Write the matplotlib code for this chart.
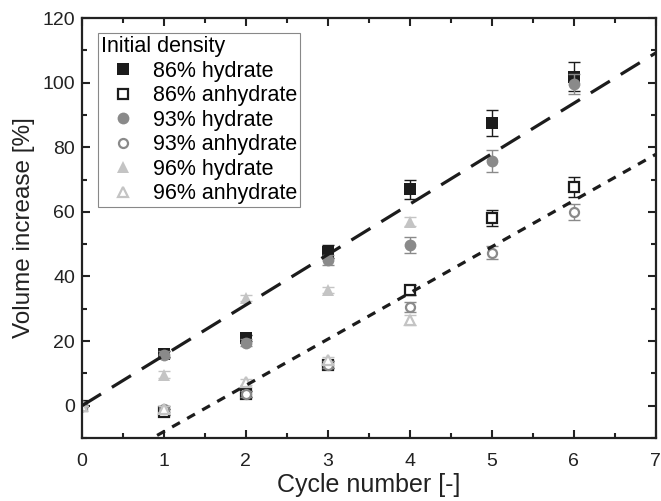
import numpy as np
import matplotlib
matplotlib.use("Agg")
import matplotlib.pyplot as plt

plt.rcParams['font.family'] = ['Liberation Sans', 'DejaVu Sans']

cycles = [0, 1, 2, 3, 4, 5, 6]
cycles_96 = [0, 1, 2, 3, 4]

h86 = [0, 16, 21, 47.6, 67, 87.5, 101.8]
h86_err = [0, 1, 1, 2, 3, 4, 4.5]
a86 = [0, -2, 3.7, 12.7, 35.9, 58.1, 67.7]
a86_err = [0, 1, 1, 1, 1.5, 2.5, 3]
h93 = [0, 15.8, 19.5, 45.2, 49.8, 75.8, 99.6]
h93_err = [0, 1, 1, 1.5, 2.5, 3.5, 3]
a93 = [0, -1, 3.7, 12.7, 30.6, 47.3, 60]
a93_err = [0, 1, 1, 1, 1.5, 2, 2.5]
h96 = [0, 9.6, 33.4, 35.9, 57]
h96_err = [0, 1, 1, 1, 1.5]
a96 = [0, -1, 7.4, 14.2, 26.6]
a96_err = [0, 1, 1, 1, 1.5]

# fit lines (slope, intercept)
fit_hydrate = (15.6, 0.0)
fit_anhydrate = (14.3, -22.3)

fig = plt.figure(figsize=(6.61, 5.01), dpi=100)
ax = fig.add_axes([0.124, 0.1257, 0.868, 0.8383])

black = '#1c1c1c'
gray = '#8a8a8a'
light = '#c4c4c4'

series = [
    (cycles, h86, h86_err, 's', black, True, '86% hydrate'),
    (cycles, a86, a86_err, 's', black, False, '86% anhydrate'),
    (cycles, h93, h93_err, 'o', gray, True, '93% hydrate'),
    (cycles, a93, a93_err, 'o', gray, False, '93% anhydrate'),
    (cycles_96, h96, h96_err, '^', light, True, '96% hydrate'),
    (cycles_96, a96, a96_err, '^', light, False, '96% anhydrate'),
]

for x, y, e, m, c, filled, lab in series:
    ax.errorbar(x, y, yerr=e, fmt='none', ecolor=c, elinewidth=1, capsize=4, capthick=1)
    ax.plot(x, y, ls='none', marker=m, markersize=8.5 if filled else 6.5,
            markerfacecolor=c if filled else 'white', markeredgecolor=c,
            markeredgewidth=0 if filled else 1.6, label=lab)

xx = np.array([0, 7])
ax.plot(xx, fit_hydrate[0] * xx + fit_hydrate[1], color=black, lw=2.3, dashes=(7, 4), zorder=5)
ax.plot(xx, fit_anhydrate[0] * xx + fit_anhydrate[1], color=black, lw=2.3, dashes=(2.8, 2.6), zorder=5)

ax.set_xlim(0, 7)
ax.set_ylim(-10, 120)
ax.set_xticks(range(0, 8))
ax.set_yticks(range(0, 121, 20))
ax.set_xticks(np.arange(0.5, 7, 1), minor=True)
ax.set_yticks(range(-10, 121, 20), minor=True)
ax.tick_params(which='both', direction='in', top=True, right=True, width=1.5, labelsize=14, colors='#222222')
ax.tick_params(which='major', length=6)
ax.tick_params(which='minor', length=3.5)
ax.tick_params(axis='x', pad=11)
ax.tick_params(axis='y', pad=5)
for s in ax.spines.values():
    s.set_linewidth(1.6)
    s.set_color('#222222')

ax.set_xlabel('Cycle number [-]', fontsize=18, color='#222222', labelpad=2)
ax.set_ylabel('Volume increase [%]', fontsize=17.5, color='#222222', labelpad=5)

leg = ax.legend(title='Initial density', loc='upper left', bbox_to_anchor=(0.028, 0.964),
                fontsize=15.5, title_fontsize=15.5, alignment='left', fancybox=False,
                edgecolor='#888888', framealpha=1, handlelength=2.0, handletextpad=0.4,
                labelspacing=0.16, borderpad=0.15, borderaxespad=0)
leg.get_frame().set_linewidth(0.8)

fig.savefig('out.png', dpi=100)
